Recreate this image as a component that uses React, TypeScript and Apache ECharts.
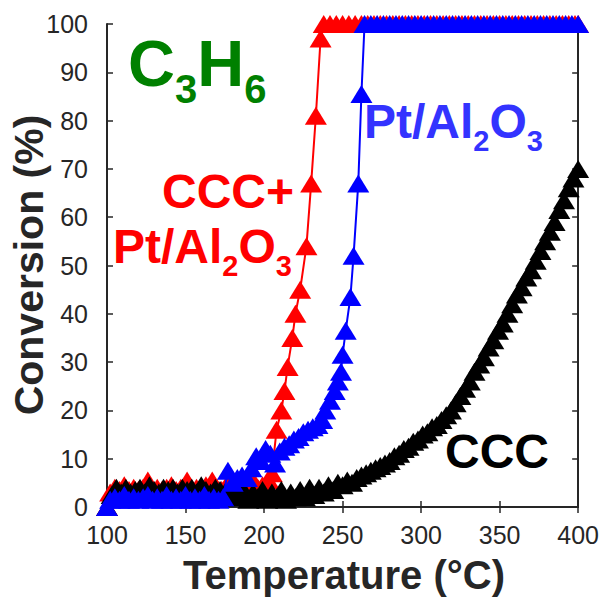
import React, { useEffect, useRef } from "react";
import * as echarts from "echarts";

const xTicks = { min: 100, max: 400, interval: 50 };
const yTicks = { min: 0, max: 100, interval: 10 };

const redData: [number, number][] = [
  [100, 0], [102, 3], [105, 4], [108, 3.5], [111, 4.5], [114, 3.5], [117, 4], [120, 3.5], [123, 4], [126, 5.5],
  [129, 3.5], [132, 4], [135, 3.5], [138, 4], [141, 4.5], [144, 3.5], [147, 4], [151, 5.5], [154, 3.5], [157, 4],
  [160, 3.5], [163, 4.5], [167, 5.5], [170, 4], [173, 3.5], [176, 4.5], [180, 5.5], [183, 4], [186, 3.5], [189, 4.5],
  [193, 5.5], [196, 4], [199, 4.5], [203, 5.5], [205, 7], [208, 16], [211, 20], [213, 24], [215, 29], [218, 35],
  [220, 40], [223, 45], [227, 54], [230, 67], [233, 81], [236, 97], [238, 100], [242, 100], [246, 100], [250, 100],
  [254, 100], [258, 100], [262, 100], [266, 100], [270, 100], [274, 100], [278, 100], [282, 100], [286, 100], [290, 100],
  [294, 100], [298, 100], [302, 100], [306, 100], [310, 100], [314, 100], [318, 100], [322, 100], [326, 100], [330, 100],
  [334, 100], [338, 100], [342, 100], [346, 100], [350, 100], [354, 100], [358, 100], [362, 100], [366, 100], [370, 100],
  [374, 100], [378, 100], [382, 100], [386, 100], [390, 100], [394, 100], [398, 100], [400, 100],
];

const blackData: [number, number][] = [
  [100, 0], [103, 2.5], [106, 4], [109, 3], [112, 4], [115, 3], [118, 3.5], [121, 4], [124, 3], [127, 4.5],
  [130, 3.5], [133, 3], [136, 4], [139, 3.5], [142, 4], [145, 3], [148, 4], [151, 3.5], [154, 4], [157, 3],
  [160, 4.5], [163, 3.5], [166, 3], [169, 4], [172, 3.5], [175, 3], [178, 2.5], [181, 3], [184, 2], [187, 3.5],
  [190, 1.5], [193, 3], [196, 2], [199, 3.5], [202, 1.5], [205, 3], [208, 2], [211, 3.5], [214, 1.5], [217, 3],
  [220, 2], [223, 3.5], [226, 2], [229, 4], [232, 2.5], [235, 4], [238, 3], [241, 4.5], [244, 3.5], [247, 5],
  [250, 4.5], [253, 5.5], [256, 5], [259, 6], [262, 6.5], [265, 7], [268, 7.5], [271, 8], [274, 8.5], [277, 9],
  [280, 9.5], [283, 10.5], [286, 11], [289, 12], [292, 12.5], [295, 13.5], [298, 14], [301, 15], [304, 15.5], [307, 16.5],
  [310, 17], [313, 18], [316, 19], [319, 20], [322, 21.5], [325, 23], [328, 24.5], [331, 26], [334, 28], [337, 29.5],
  [340, 31], [343, 33], [346, 34.5], [349, 36.5], [352, 38], [355, 40], [358, 42], [361, 44], [364, 45.5], [367, 47.5],
  [370, 49], [373, 51], [376, 53], [379, 55], [382, 57], [385, 59], [388, 61.5], [391, 63.5], [394, 66], [397, 68],
  [400, 70],
];

const blueData: [number, number][] = [
  [100, 0], [102, 1.5], [105, 2], [108, 1.5], [111, 2.5], [114, 1.5], [117, 2], [120, 1.5], [123, 2], [126, 2.5],
  [129, 1.5], [132, 2], [135, 1.5], [138, 2.5], [141, 1.5], [144, 2], [147, 1.5], [150, 2.5], [153, 1.5], [156, 2],
  [159, 1.5], [162, 2.5], [165, 1.5], [168, 2], [171, 1.5], [174, 2], [177, 7.5], [180, 5], [183, 6], [186, 6.5],
  [189, 6], [192, 8], [195, 10.5], [198, 9.5], [201, 12], [204, 11], [207, 9], [210, 11.5], [213, 12.5], [216, 13],
  [219, 14], [222, 14.5], [225, 15.5], [228, 16], [231, 16.5], [234, 17], [237, 18], [239, 20], [242, 22], [245, 24],
  [247, 26], [249, 28], [250, 31.5], [252, 36.5], [255, 43.5], [257, 52], [260, 67], [262, 85.5], [264, 100], [268, 100],
  [272, 100], [276, 100], [280, 100], [284, 100], [288, 100], [292, 100], [296, 100], [300, 100], [304, 100], [308, 100],
  [312, 100], [316, 100], [320, 100], [324, 100], [328, 100], [332, 100], [336, 100], [340, 100], [344, 100], [348, 100],
  [352, 100], [356, 100], [360, 100], [364, 100], [368, 100], [372, 100], [376, 100], [380, 100], [384, 100], [388, 100],
  [392, 100], [396, 100], [400, 100],
];

const seriesNames = ["CCC+Pt/Al2O3", "CCC", "Pt/Al2O3"];
const seriesColors = ["#ff0000", "#000000", "#0000ff"];

const AX = "#262626";
const LABEL_FONT = "'Liberation Sans', Arial, sans-serif";
const BOLD = "'Liberation Sans', Arial, sans-serif";

export default function App() {
  const ref = useRef<HTMLDivElement>(null);
  useEffect(() => {
    if (!ref.current) return;
    const chart = echarts.init(ref.current, undefined, { renderer: "svg" });
    const tickStyle = { show: true, inside: true, length: 6, lineStyle: { color: AX, width: 1.5 } };
    const lineStyle = { color: AX, width: 2 };
    const labelStyle = { color: AX, fontSize: 25, fontFamily: LABEL_FONT };
    const mk = (data: [number, number][], i: number) => ({
      name: seriesNames[i],
      type: "line",
      data,
      symbol: "triangle",
      symbolSize: [22, 18],
      showSymbol: true,
      clip: false,
      itemStyle: { color: seriesColors[i] },
      lineStyle: { color: seriesColors[i], width: 2 },
      z: 2 + i,
    });
    const sub = (color: string, size: number, pad: number) => ({
      fontSize: size, fontWeight: "bold", fontFamily: BOLD, fill: color, padding: [pad, 0, 0, 0], verticalAlign: "top",
    });
    const main = (color: string, size: number) => ({
      fontSize: size, fontWeight: "bold", fontFamily: BOLD, fill: color, verticalAlign: "top",
    });
    chart.setOption({
      animation: false,
      backgroundColor: "#ffffff",
      grid: { left: 107, right: 23, top: 24, bottom: 90, containLabel: false },
      xAxis: [
        {
          type: "value", ...xTicks, position: "bottom",
          axisLine: { show: true, lineStyle }, axisTick: tickStyle,
          axisLabel: { ...labelStyle, margin: 15 }, splitLine: { show: false },
        },
        {
          type: "value", ...xTicks, position: "top",
          axisLine: { show: true, lineStyle }, axisTick: tickStyle,
          axisLabel: { show: false }, splitLine: { show: false },
        },
      ],
      yAxis: [
        {
          type: "value", ...yTicks, position: "left",
          axisLine: { show: true, lineStyle }, axisTick: tickStyle,
          axisLabel: { ...labelStyle, margin: 19 }, splitLine: { show: false },
        },
        {
          type: "value", ...yTicks, position: "right",
          axisLine: { show: true, lineStyle }, axisTick: tickStyle,
          axisLabel: { show: false }, splitLine: { show: false },
        },
      ],
      series: [mk(redData, 0), mk(blackData, 1), mk(blueData, 2)],
      graphic: [
        {
          type: "text", x: 344, y: 575,
          style: { text: "Temperature (°C)", fontSize: 40, fontWeight: "bold", fontFamily: BOLD, fill: AX, textAlign: "center", textVerticalAlign: "middle" },
        },
        {
          type: "text", x: 29, y: 265, rotation: Math.PI / 2,
          style: { text: "Conversion (%)", fontSize: 41, fontWeight: "bold", fontFamily: BOLD, fill: AX, textAlign: "center", textVerticalAlign: "middle" },
        },
        {
          type: "text", x: 128, y: 31, z: 10,
          style: {
            text: "{a|C}{s|3}{a|H}{s|6}",
            rich: { a: main("#008000", 65), s: sub("#008000", 40, 38) },
          },
        },
        {
          type: "text", x: 364, y: 97, z: 10,
          style: {
            text: "{a|Pt/Al}{s|2}{a|O}{s|3}",
            rich: { a: main("#3333ff", 48), s: sub("#3333ff", 29, 29) },
          },
        },
        {
          type: "text", x: 162, y: 167, z: 10,
          style: { text: "CCC+", fontSize: 48, fontWeight: "bold", fontFamily: BOLD, fill: "#ff0000" },
        },
        {
          type: "text", x: 113, y: 222, z: 10,
          style: {
            text: "{a|Pt/Al}{s|2}{a|O}{s|3}",
            rich: { a: main("#ff0000", 48), s: sub("#ff0000", 29, 29) },
          },
        },
        {
          type: "text", x: 445, y: 427, z: 10,
          style: { text: "CCC", fontSize: 48, fontWeight: "bold", fontFamily: BOLD, fill: "#000000" },
        },
      ],
    });
    return () => chart.dispose();
  }, []);
  return <div ref={ref} style={{ width: 602, height: 597, position: "absolute", left: 0, top: 0 }} />;
}
